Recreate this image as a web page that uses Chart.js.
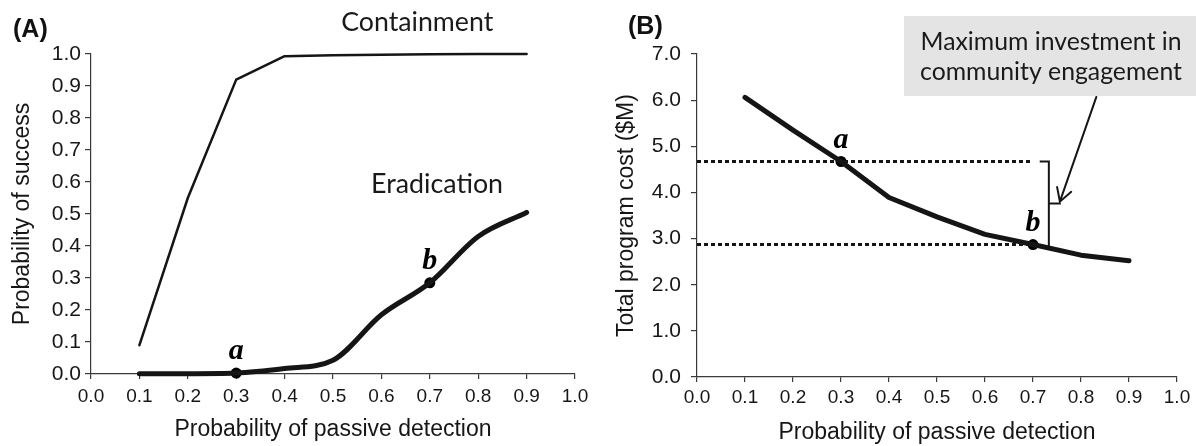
<!DOCTYPE html>
<html><head><meta charset="utf-8">
<script src="https://cdn.jsdelivr.net/npm/chart.js@4.4.1/dist/chart.umd.min.js"></script>
<style>
html,body{margin:0;padding:0;background:#fff;}
#wrap{position:relative;width:1196px;height:446px;overflow:hidden;background:#fff;}
canvas{position:absolute;top:0;}
</style></head><body>
<div id="wrap">
<canvas id="cA" width="600" height="446" style="left:0;width:600px;height:446px"></canvas>
<canvas id="cB" width="596" height="446" style="left:600px;width:596px;height:446px"></canvas>
</div>
<script>
// ---------------- data ----------------
const detection    = [0.1, 0.2, 0.3, 0.4, 0.5, 0.6, 0.7, 0.8, 0.9];
const containment  = [0.09, 0.55, 0.92, 0.993, 0.996, 0.998, 0.999, 1.0, 1.0];
const eradication  = [0.001, 0.001, 0.003, 0.017, 0.043, 0.185, 0.285, 0.43, 0.505];
const totalCost    = [6.06, 5.35, 4.67, 3.89, 3.47, 3.09, 2.87, 2.64, 2.52];
const xTickValues  = [0, 0.1, 0.2, 0.3, 0.4, 0.5, 0.6, 0.7, 0.8, 0.9, 1.0];
const yTickValuesA = [0, 0.1, 0.2, 0.3, 0.4, 0.5, 0.6, 0.7, 0.8, 0.9, 1.0];
const yTickValuesB = [0, 1, 2, 3, 4, 5, 6, 7];
const markersA = [{x: 0.3, y: 0.003, label: 'a'}, {x: 0.7, y: 0.285, label: 'b'}];
const markersB = [{x: 0.3, y: 4.67, label: 'a'}, {x: 0.7, y: 2.87, label: 'b'}];
const costA = 4.67, costB = 2.87;
const upperDotted = [{x: 0, y: costA}, {x: 0.696, y: costA}];
const lowerDotted = [{x: 0, y: costB}, {x: 0.70, y: costB}];
const bracketMain = [{x: 0.714, y: costA}, {x: 0.733, y: costA}, {x: 0.733, y: 2.80}];
const bracketTick = [{x: 0.733, y: 3.76}, {x: 0.758, y: 3.76}];
const arrowFrom = {x: 0.832, y: 6.07};
const arrowTo   = {x: 0.756, y: 3.80};
const seriesLabelsA = [
  {text: 'Containment', x: 0.674, y: 1.073, width: 152},
  {text: 'Eradication', x: 0.715, y: 0.566, width: 132}
];
const boxLines = ['Maximum investment in', 'community engagement'];

// ---------------- helpers ----------------
const INK = '#151515';
const AXIS = '#3a3a3a';
const SANS = '"Liberation Sans", Arial, sans-serif';
const XTICKFONT = {family: SANS, size: 19};
const YTICKFONT = {family: SANS, size: 21};
const TITLEFONT = {family: SANS, size: 23};
const pts = (xs, ys) => xs.map((x, i) => ({x, y: ys[i]}));

function fitFont(ctx, text, family, weight, target) {
  ctx.font = `${weight} 100px ${family}`;
  const w = ctx.measureText(text).width;
  return 100 * target / w;
}

function xScale(height, tickPad, titlePadBottom) {
  return {
    type: 'linear', min: 0, max: 1,
    afterBuildTicks: s => { s.ticks = xTickValues.map(v => ({value: v})); },
    afterFit: s => { s.height = height; },
    ticks: {callback: v => Number(v).toFixed(1), font: XTICKFONT, color: '#161616', padding: tickPad, maxRotation: 0, autoSkip: false},
    grid: {display: true, drawOnChartArea: false, drawTicks: true, tickLength: 5, color: AXIS, lineWidth: 1.2},
    border: {display: true, color: AXIS, width: 1.2},
    title: {display: true, text: 'Probability of passive detection', font: TITLEFONT, color: '#161616', padding: {top: 0, bottom: titlePadBottom}}
  };
}
function yScale(width, min, max, ticks, text, tickPad, titlePadTop) {
  return {
    type: 'linear', min, max,
    afterBuildTicks: s => { s.ticks = ticks.map(v => ({value: v})); },
    afterFit: s => { s.width = width; },
    ticks: {callback: v => Number(v).toFixed(1), font: YTICKFONT, color: '#161616', padding: tickPad, autoSkip: false},
    grid: {display: true, drawOnChartArea: false, drawTicks: true, tickLength: 6, color: AXIS, lineWidth: 1.2},
    border: {display: true, color: AXIS, width: 1.2},
    title: {display: true, text, font: TITLEFONT, color: '#161616', padding: {top: titlePadTop, bottom: 0}}
  };
}
function lineDS(data, width, extra) {
  return Object.assign({data, borderColor: INK, backgroundColor: INK, borderWidth: width, pointRadius: 0,
    tension: 0, fill: false, clip: false, borderCapStyle: 'round', borderJoinStyle: 'round'}, extra || {});
}
function markerDS(markers) {
  return {data: markers.map(m => ({x: m.x, y: m.y})), showLine: false, pointRadius: 5.5, pointHoverRadius: 5.5,
    pointBackgroundColor: '#000', pointBorderColor: '#000', pointBorderWidth: 0, clip: false};
}
function markerLabels(markers) {
  return {
    id: 'markerLabels',
    afterDatasetsDraw(chart) {
      const {ctx, scales: {x, y}} = chart;
      ctx.save();
      ctx.fillStyle = '#000';
      ctx.font = 'italic bold 30px "Liberation Serif", "Times New Roman", serif';
      ctx.textAlign = 'center';
      ctx.textBaseline = 'alphabetic';
      markers.forEach(m => ctx.fillText(m.label, x.getPixelForValue(m.x), y.getPixelForValue(m.y) - 14));
      ctx.restore();
    }
  };
}
function panelTag(text, left, baseline) {
  return {
    id: 'panelTag',
    afterDraw(chart) {
      const ctx = chart.ctx;
      ctx.save();
      ctx.fillStyle = '#111';
      ctx.font = 'bold 25px ' + SANS;
      ctx.textAlign = 'left';
      ctx.textBaseline = 'alphabetic';
      ctx.fillText(text, left, baseline);
      ctx.restore();
    }
  };
}
const common = {
  responsive: false, animation: false, devicePixelRatio: 1,
  events: [],
  plugins: {legend: {display: false}, tooltip: {enabled: false}}
};

// ---------------- chart A ----------------
const seriesText = {
  id: 'seriesText',
  afterDraw(chart) {
    const {ctx, scales: {x, y}} = chart;
    ctx.save();
    ctx.fillStyle = '#1a1a1a';
    ctx.textAlign = 'center';
    ctx.textBaseline = 'alphabetic';
    seriesLabelsA.forEach(l => {
      const fam = 'Lato, "Open Sans", sans-serif';
      const size = fitFont(ctx, l.text, fam, 'normal', l.width);
      ctx.font = `normal ${size.toFixed(2)}px ${fam}`;
      ctx.fillText(l.text, x.getPixelForValue(l.x), y.getPixelForValue(l.y));
    });
    ctx.restore();
  }
};
new Chart(document.getElementById('cA'), {
  type: 'line',
  data: {datasets: [
    lineDS(pts(detection, containment), 2.5),
    lineDS(pts(detection, eradication), 5, {cubicInterpolationMode: 'monotone'}),
    markerDS(markersA)
  ]},
  options: Object.assign({}, common, {
    layout: {padding: {left: 0, right: 25, top: 54, bottom: 0}},
    scales: {
      x: xScale(72, 6.6, 2.2),
      y: yScale(91, 0, 1, yTickValuesA, 'Probability of success', 4, 9.2)
    }
  }),
  plugins: [markerLabels(markersA), seriesText, panelTag('(A)', 13, 37)]
});

// ---------------- chart B ----------------
const boxAndArrow = {
  id: 'boxAndArrow',
  beforeDatasetsDraw(chart) {
    const ctx = chart.ctx;
    ctx.save();
    ctx.fillStyle = '#e4e4e4';
    ctx.fillRect(304, 16, 292, 80);
    const fam = 'Lato, "Open Sans", sans-serif';
    const size = fitFont(ctx, boxLines[0], fam, 'normal', 261);
    ctx.font = `normal ${size.toFixed(2)}px ${fam}`;
    ctx.fillStyle = '#1a1a1a';
    ctx.textAlign = 'center';
    ctx.textBaseline = 'alphabetic';
    ctx.fillText(boxLines[0], 451, 50);
    ctx.fillText(boxLines[1], 451, 80);
    ctx.restore();
  },
  afterDatasetsDraw(chart) {
    const {ctx, scales: {x, y}} = chart;
    const x0 = x.getPixelForValue(arrowFrom.x), y0 = y.getPixelForValue(arrowFrom.y);
    const x1 = x.getPixelForValue(arrowTo.x), y1 = y.getPixelForValue(arrowTo.y);
    const ang = Math.atan2(y0 - y1, x0 - x1);
    const L = 15, half = Math.PI / 6;
    ctx.save();
    ctx.strokeStyle = INK;
    ctx.lineWidth = 2;
    ctx.lineCap = 'round';
    ctx.beginPath();
    ctx.moveTo(x0, y0); ctx.lineTo(x1, y1);
    ctx.moveTo(x1 + L * Math.cos(ang - half), y1 + L * Math.sin(ang - half));
    ctx.lineTo(x1, y1);
    ctx.lineTo(x1 + L * Math.cos(ang + half), y1 + L * Math.sin(ang + half));
    ctx.stroke();
    ctx.restore();
  }
};
const dotted = {borderDash: [4, 3], borderCapStyle: 'butt'};
new Chart(document.getElementById('cB'), {
  type: 'line',
  data: {datasets: [
    lineDS(upperDotted, 3, dotted),
    lineDS(lowerDotted, 3, dotted),
    lineDS(bracketMain, 2, {borderCapStyle: 'butt', borderJoinStyle: 'miter'}),
    lineDS(bracketTick, 2, {borderCapStyle: 'butt'}),
    lineDS(pts(detection, totalCost), 5),
    markerDS(markersB)
  ]},
  options: Object.assign({}, common, {
    layout: {padding: {left: 0, right: 19, top: 54, bottom: 0}},
    scales: {
      x: xScale(69, 4.6, 0),
      y: yScale(97, 0, 7, yTickValuesB, 'Total program cost ($M)', 10, 12.8)
    }
  }),
  plugins: [boxAndArrow, markerLabels(markersB), panelTag('(B)', 28, 34)]
});
</script>
</body></html>
